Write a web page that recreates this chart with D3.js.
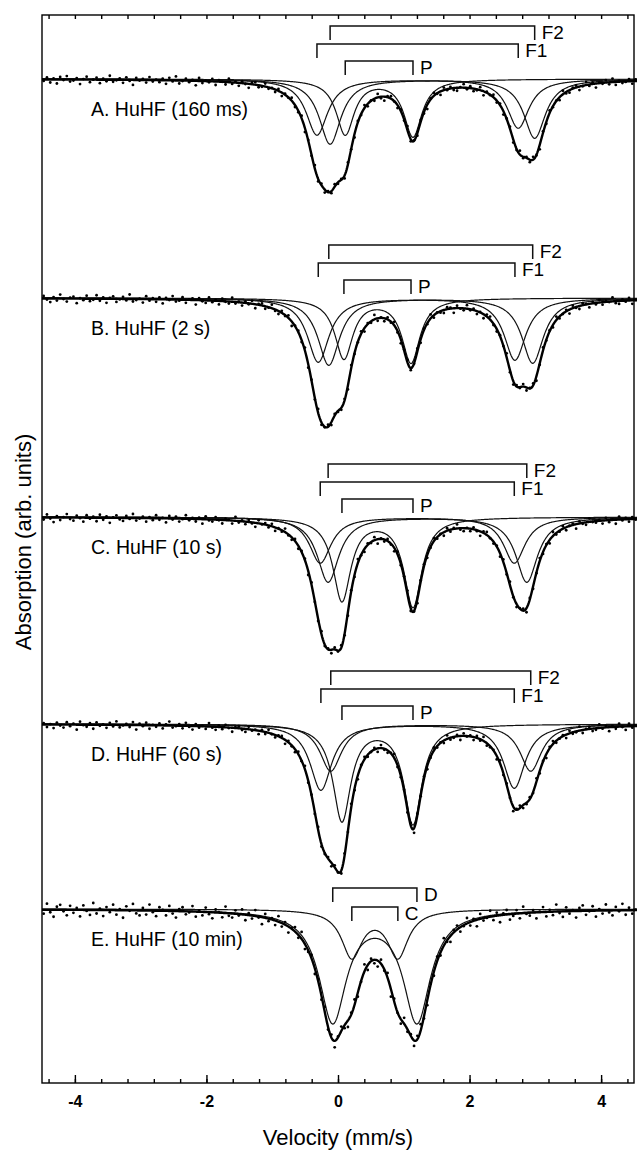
<!DOCTYPE html>
<html lang="en">
<head>
<meta charset="UTF-8">
<title>HuHF Mossbauer spectra</title>
<style>
    body { margin: 0; background: #fff; }
    svg { display: block; font-family: "Liberation Sans", Arial, sans-serif; }
    .comp { fill: none; stroke: #111; stroke-width: 1.2; }
    .total { fill: none; stroke: #000; stroke-width: 2.4; }
    .bracket { fill: none; stroke: #111; stroke-width: 1.5; }
    .axis path, .axis line { stroke: #000; stroke-width: 1.4; }
    .axis text { font-size: 16px; font-weight: bold; fill: #000; }
</style>
</head>
<body>
<div id="chart"></div>
<script src="https://cdn.jsdelivr.net/npm/d3@7"></script>
<script>
    // panel labels (top to bottom)
    var panelLabels = ["A. HuHF (160 ms)", "B. HuHF (2 s)", "C. HuHF (10 s)", "D. HuHF (60 s)", "E. HuHF (10 min)"];

    // doublet line positions (mm/s) and depths (arb. units) for panels A-D
    var f1Vel = [[-0.32, 2.74], [-0.30, 2.69], [-0.27, 2.68], [-0.26, 2.68]];
    var f1Depth = [[1.12, 0.98], [1.28, 1.24], [0.92, 0.92], [1.32, 1.28]];
    var f2Vel = [[-0.12, 2.99], [-0.14, 2.96], [-0.15, 2.87], [-0.11, 2.93]];
    var f2Depth = [[1.30, 1.18], [1.34, 1.30], [1.30, 1.30], [0.94, 0.94]];
    var pVel = [[0.11, 1.14], [0.09, 1.11], [0.06, 1.14], [0.06, 1.14]];
    var pDepth = [[1.10, 1.14], [1.20, 1.28], [1.66, 1.78], [1.92, 1.98]];

    // panel E: diferric species D and C
    var dVel = [-0.08, 1.20];
    var dDepth = [2.22, 2.22];
    var cVel = [0.21, 0.91];
    var cDepth = [0.94, 0.94];

    // half widths at half maximum (mm/s)
    var speciesNames = ["F1", "F2", "P", "D", "C"];
    var speciesHwhm = [0.2, 0.2, 0.165, 0.25, 0.19];

    // measured points: deviation from fit (hundredths of arb. unit), one per channel
    var resA = [3,-4,6,-2,8,-5,1,-7,4,2,-3,9,-1,-6,5,0,-4,7,-2,3,-8,4,1,-3,6,-5,2,10,-4,1,-2,5,-6,3,-1,4,-3,7,-5,2,-8,6,1,-4,3,-2,9,-6,4,-1,2,-5,7,-3,0,5,-7,3,-2,6,-4,1,8,-3,-5,4,2,-6,3,-1,5,-4,7,-2,1,-6,4,3,-5,8,-1,2,-7,5,-3,6,-2,4,-5,3,
        -2,6,-4,1,7,-3,2,-6,5,-1,4,-7,3,8,-2,-5,1,6,-3,2,-8,4,-1,5,-4,3,9,-2,-6,1,7,-5,2,-3,4,6,-1,-7,3,-4,5,2,-6,8,-2,1,-5,4,-3,7,-1,-4,6,2,-8,3,-2,5,-6,1,9,-3,4,-5,2,-1,6,-7,3,5,-2,-4,7,1,-6,3,-3,8,-1,2,-5,4,-7,6,-2,3,1,-4,5,-3];
    var resB = [-5,2,7,-3,4,-8,1,6,-2,-4,9,-1,3,-6,5,2,-7,4,-3,8,-2,-5,6,1,-4,3,-9,5,2,-1,7,-6,3,-2,5,-4,8,-3,1,-7,4,2,-5,6,-1,-3,9,-4,2,5,-6,3,-2,7,-5,1,4,-8,3,-1,6,-3,2,-6,8,-2,-4,5,1,-7,3,6,-4,2,-5,9,-1,-3,4,-6,7,-2,3,-8,5,1,-4,6,-3,2,
        4,-3,8,-6,2,1,-5,7,-2,3,-9,5,-1,6,-4,2,-7,3,8,-2,-5,4,1,-6,7,-3,2,-8,5,-1,3,6,-4,-2,9,-5,1,4,-7,2,-3,6,-1,8,-4,-6,3,5,-2,1,-8,4,7,-3,2,-5,6,-1,-4,9,3,-6,2,-2,5,-7,4,1,-3,8,-5,2,6,-4,-1,7,-3,3,-6,5,-2,1,-8,4,6,-3,2,-5,7,-1];
    var resC = [4,-6,2,9,-3,5,-1,-7,3,6,-4,1,8,-5,2,-2,7,-6,4,-3,10,-1,-5,3,6,-4,2,-8,5,1,-3,7,-2,4,-6,3,-1,8,-5,2,-4,6,1,-7,3,-2,5,-3,9,-6,2,4,-5,1,7,-3,-1,6,-8,3,-2,5,-4,2,8,-6,1,-3,4,-5,7,-1,3,-7,2,5,-4,6,-2,-3,8,-5,1,4,-6,3,-2,7,-4,2,
        -5,3,7,-2,4,-8,1,6,-3,2,-6,9,-1,4,-4,2,7,-5,3,-2,-7,5,1,8,-3,-4,6,2,-6,3,-1,7,-5,4,-2,-8,3,6,-1,5,-4,2,9,-3,-6,1,4,-2,7,-5,3,-7,2,6,-1,-4,8,-3,5,1,-6,4,-2,7,-8,3,2,-5,6,-1,-3,9,-4,2,5,-7,1,3,-2,6,-5,4,-1,8,-6,2,-3,5,-4,1];
    var resD = [-3,5,-1,7,-4,2,6,-5,3,-2,10,-6,1,4,-3,8,-5,2,-1,6,-4,3,-7,5,1,-2,4,-6,9,-3,2,-5,7,-1,3,-4,6,-2,-8,4,1,-3,5,-6,2,7,-4,3,-1,5,-7,2,6,-3,4,-5,1,8,-2,-4,3,6,-5,2,-1,7,-3,4,-6,1,5,-2,-4,8,-3,2,6,-5,1,-7,4,-1,3,-6,5,2,-3,7,-4,1,
        6,-4,2,-7,3,8,-2,-5,4,1,-3,7,-6,2,5,-1,-8,4,3,-2,6,-5,9,-3,1,-4,7,2,-6,3,-1,5,-7,4,2,-3,8,-5,1,-2,6,-4,3,-8,5,2,-1,7,-6,4,-3,1,9,-2,-5,6,3,-4,2,-7,5,-1,8,-3,-6,4,1,-2,7,-5,3,2,-8,6,-1,-4,5,3,-7,2,-3,8,-2,4,-6,1,7,-5,3,-1];
    var resE = [8,-12,5,14,-6,-10,3,11,-8,6,-4,13,-9,2,10,-14,7,-3,12,-6,4,-11,9,-2,15,-8,1,-13,6,10,-5,8,-12,3,11,-7,-2,9,-10,5,13,-4,-8,6,2,-11,10,-3,7,-9,4,12,-6,-1,9,-13,5,8,-7,3,-10,11,-4,6,-12,2,14,-8,5,-3,9,-11,7,-5,12,-2,-9,6,-14,10,3,-7,11,-4,8,-10,5,-6,13,-2,
        -9,6,13,-4,-11,8,2,-14,10,-5,7,12,-8,3,-10,15,-6,1,9,-12,5,-3,11,-7,-13,4,10,-2,8,-9,6,-15,3,12,-5,-8,9,2,-11,7,-4,13,-10,5,1,-12,8,-6,14,-3,-9,11,4,-7,10,-13,2,6,-5,12,-1,-10,9,-4,7,-14,3,11,-8,5,-2,13,-6,-11,8,1,-9,12,-3,6,-12,4,10,-7,2,-13,9,-5,7,-1];

    var majorTicks = [-4, -2, 0, 2, 4];

    // ---- layout ----
    var width = 637, height = 1151;
    var plotLeft = 42, plotRight = 634, plotTop = 15, plotBottom = 1083;
    var panelBase = [1.28, 5.66, 10.04, 14.18, 17.88];   // baseline of each spectrum (arb. units)

    var svg = d3.select('#chart')
        .append('svg')
        .attr('width', width)
        .attr('height', height);

    var xScale = d3.scaleLinear().domain([-4.5, 4.5]).range([plotLeft, plotRight]);
    var yScale = d3.scaleLinear().domain([0, 21.36]).range([plotTop, plotBottom]);

    function hw(name) { return speciesHwhm[speciesNames.indexOf(name)]; }

    function lorentz(v, c, depth, h) {
        var t = (v - c) / h;
        return depth / (1 + t * t);
    }

    function doublet(v, comp) {
        return lorentz(v, comp.vel[0], comp.depth[0], comp.h) + lorentz(v, comp.vel[1], comp.depth[1], comp.h);
    }

    // components for each panel
    var panels = panelLabels.map(function(label, i) {
        var comps;
        if (i < 4) {
            comps = [
                {name: "F2", vel: f2Vel[i], depth: f2Depth[i], h: hw("F2"), level: -1.06},
                {name: "F1", vel: f1Vel[i], depth: f1Depth[i], h: hw("F1"), level: -0.70},
                {name: "P", vel: pVel[i], depth: pDepth[i], h: hw("P"), level: -0.36}
            ];
        } else {
            comps = [
                {name: "D", vel: dVel, depth: dDepth, h: hw("D"), level: -0.42},
                {name: "C", vel: cVel, depth: cDepth, h: hw("C"), level: -0.04}
            ];
        }
        return {label: label, base: panelBase[i], comps: comps, res: [resA, resB, resC, resD, resE][i]};
    });

    var curveV = d3.range(-4.5, 4.6, 0.01);

    var line = d3.line()
        .x(function(d) { return xScale(d[0]); })
        .y(function(d) { return yScale(d[1]); });

    panels.forEach(function(p) {
        var g = svg.append('g').attr('class', 'panel');

        function total(v) {
            return d3.sum(p.comps, function(c) { return doublet(v, c); });
        }

        // component fits
        p.comps.forEach(function(c) {
            g.append('path')
                .attr('class', 'comp')
                .attr('d', line(curveV.map(function(v) { return [v, p.base + doublet(v, c)]; })));
        });

        // measured points
        var n = p.res.length;
        var step = 9.05 / n;
        g.selectAll('.dot')
            .data(p.res)
            .enter()
            .append('circle')
            .attr('class', 'dot')
            .attr('cx', function(d, i) { return xScale(-4.5 + (i + 0.5) * step); })
            .attr('cy', function(d, i) {
                var v = -4.5 + (i + 0.5) * step;
                return yScale(p.base + total(v) + d / 100);
            })
            .attr('r', 1.4)
            .attr('fill', '#000');

        // total fit
        g.append('path')
            .attr('class', 'total')
            .attr('d', line(curveV.map(function(v) { return [v, p.base + total(v)]; })));

        // brackets
        p.comps.forEach(function(c) {
            var yb = yScale(p.base + c.level);
            var x0 = xScale(c.vel[0]), x1 = xScale(c.vel[1]);
            g.append('path')
                .attr('class', 'bracket')
                .attr('d', 'M' + x0 + ',' + (yb + 14) + 'V' + yb + 'H' + x1 + 'V' + (yb + 14));
            g.append('text')
                .attr('x', x1 + 7)
                .attr('y', yb + 13)
                .attr('font-size', '19px')
                .text(c.name);
        });

        // panel label
        g.append('text')
            .attr('x', 91)
            .attr('y', yScale(p.base) + 37)
            .attr('font-size', '19.5px')
            .text(p.label);
    });

    // frame and axes
    svg.append('rect')
        .attr('x', plotLeft).attr('y', plotTop)
        .attr('width', plotRight - plotLeft).attr('height', plotBottom - plotTop)
        .attr('fill', 'none').attr('stroke', '#000').attr('stroke-width', 1.4);

    var minorTicks = d3.range(-4.4, 4.41, 0.4);

    svg.append('g')
        .attr('class', 'axis')
        .attr('transform', 'translate(0,' + plotBottom + ')')
        .call(d3.axisBottom(xScale).tickValues(minorTicks).tickSize(-4).tickFormat(''))
        .select('.domain').remove();

    svg.append('g')
        .attr('class', 'axis')
        .attr('transform', 'translate(0,' + plotBottom + ')')
        .call(d3.axisBottom(xScale).tickValues(majorTicks).tickSize(-8).tickPadding(13)
            .tickFormat(function(d) { return d; }))
        .select('.domain').remove();

    svg.append('g')
        .attr('class', 'axis')
        .attr('transform', 'translate(0,' + plotTop + ')')
        .call(d3.axisTop(xScale).tickValues(minorTicks).tickSize(-4).tickFormat(''))
        .select('.domain').remove();

    // axis titles
    svg.append('text')
        .attr('x', 338)
        .attr('y', 1145)
        .attr('text-anchor', 'middle')
        .attr('font-size', '22px')
        .text('Velocity (mm/s)');

    svg.append('text')
        .attr('transform', 'translate(31,542) rotate(-90)')
        .attr('text-anchor', 'middle')
        .attr('font-size', '22px')
        .text('Absorption (arb. units)');
</script>
</body>
</html>
